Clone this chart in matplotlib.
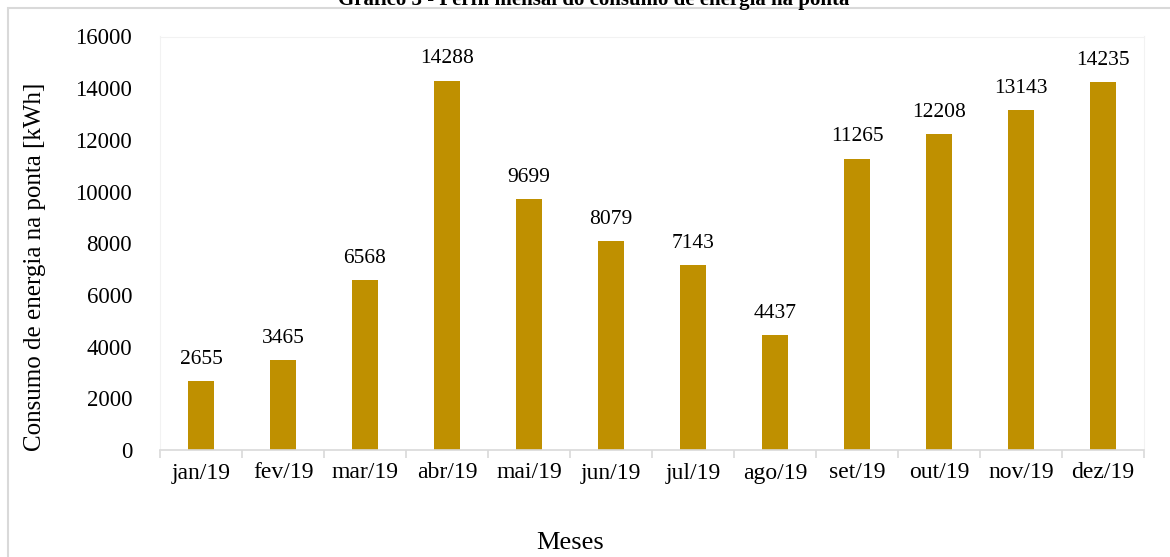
import matplotlib
matplotlib.use("Agg")
import matplotlib.pyplot as plt
from matplotlib.patches import Rectangle

# monthly peak-hour energy consumption, 2019
meses = ["jan/19", "fev/19", "mar/19", "abr/19", "mai/19", "jun/19",
         "jul/19", "ago/19", "set/19", "out/19", "nov/19", "dez/19"]
consumo = [2655, 3465, 6568, 14288, 9699, 8079, 7143, 4437, 11265, 12208, 13143, 14235]
yticks = [0, 2000, 4000, 6000, 8000, 10000, 12000, 14000, 16000]

plt.rcParams["font.family"] = ["Liberation Serif", "DejaVu Serif"]

W, H = 1170, 557
fig = plt.figure(figsize=(W / 100, H / 100), dpi=100)
ax = fig.add_axes([160 / W, 1 - 450 / H, (1144 - 160) / W, (450 - 36.5) / H])

gold = "#BF9000"
x = list(range(len(meses)))
ax.bar(x, consumo, width=0.32, color=gold, zorder=2)
for xi, v in zip(x, consumo):
    ax.annotate(str(v), (xi, v), xytext=(0, 9), textcoords="offset points",
                ha="center", va="bottom", fontsize=15.5)

ax.set_xlim(-0.5, len(meses) - 0.5)
ax.set_ylim(0, 16000)
ax.set_yticks(yticks)
ax.set_yticklabels([str(t) for t in yticks], fontsize=16.5)
ax.tick_params(axis="y", length=0, pad=20)

# category labels centred, tick marks on the boundaries
ax.set_xticks(x)
ax.set_xticklabels(meses, fontsize=17)
ax.set_xticks([i - 0.5 for i in range(len(meses) + 1)], minor=True)
ax.tick_params(axis="x", which="major", length=0, pad=9)
ax.tick_params(axis="x", which="minor", length=6, color="#D9D9D9", width=1.2)

for side in ["top", "right", "left"]:
    ax.spines[side].set_color("#F2F2F2")
ax.spines["bottom"].set_color("#D9D9D9")
ax.spines["bottom"].set_linewidth(1.2)

ax.set_ylabel("Consumo de energia na ponta [kWh]", fontsize=18, va="center")
ax.yaxis.set_label_coords((35 - 160) / 984, (450 - 267) / 413.5)
fig.text(570 / W, 1 - 543 / H, "Meses", fontsize=19, ha="center", va="center")

# outer chart frame, running off the right and bottom edges
fig.patches.append(Rectangle((7.5 / W, -0.1), 1.2, 1 - 7.5 / H + 0.1,
                             transform=fig.transFigure, fill=False,
                             edgecolor="#D9D9D9", linewidth=1.5))

fig.text(594 / W, 1 - 5 / H, "Gráfico 3 - Perfil mensal do consumo de energia na ponta",
         fontsize=15, fontweight="bold", ha="center", va="baseline")

fig.savefig("out.png", dpi=100)
